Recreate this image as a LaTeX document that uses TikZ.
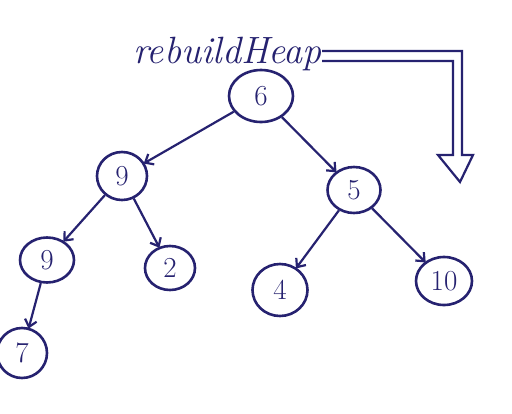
\documentclass[tikz,border=0pt]{standalone}
\usepackage{fontspec}
\usetikzlibrary{arrows.meta,shapes.geometric}
\definecolor{ink}{RGB}{38,34,112}
\begin{document}
\begin{tikzpicture}[x=1pt,y=-1pt,
  heapnode/.style={ellipse,draw=ink,line width=2.6pt,text=ink,inner sep=0pt,
    font=\fontsize{29}{29}\selectfont},
  edge/.style={draw=ink,line width=2.2pt,-{Straight Barb[length=7pt,width=12pt]},shorten >=-1pt},
  label/.style={text=ink,font=\fontsize{38}{38}\selectfont\itshape,inner sep=0pt}]
\useasboundingbox[fill=white] (0,0) rectangle (512,413);

% tree nodes
\node[heapnode,minimum width=64pt,minimum height=52pt] (n6)  at (261,96)  {6};
\node[heapnode,minimum width=50pt,minimum height=48pt] (n9a) at (122,176) {9};
\node[heapnode,minimum width=53pt,minimum height=46pt] (n5)  at (354,190) {5};
\node[heapnode,minimum width=54pt,minimum height=45pt] (n9b) at (47,260)  {9};
\node[heapnode,minimum width=50pt,minimum height=44pt] (n2)  at (170,268) {2};
\node[heapnode,minimum width=55pt,minimum height=52pt] (n4)  at (280,290) {4};
\node[heapnode,minimum width=56pt,minimum height=48pt] (n10) at (444,281) {10};
\node[heapnode,minimum width=50pt,minimum height=50pt] (n7)  at (22,353)  {7};

% parent-to-child connectors
\draw[edge] (n6)  -- (n9a);
\draw[edge] (n6)  -- (n5);
\draw[edge] (n9a) -- (n9b);
\draw[edge] (n9a) -- (n2);
\draw[edge] (n9b) -- (n7);
\draw[edge] (n5)  -- (n4);
\draw[edge] (n5)  -- (n10);

% operation label with its hollow bent arrow
\node[label,anchor=east] (op) at (322,54) {rebuildHeap};
\coordinate (tip) at (460,182);
\draw[ink,line width=2.2pt,line join=miter]
  (op.east |- 0,51) -- (462,51) -- (462,155) -- (473,155) -- (tip)
  -- (438,155) -- (453,155) -- (453,61) -- (op.east |- 0,61);
\end{tikzpicture}
\end{document}
